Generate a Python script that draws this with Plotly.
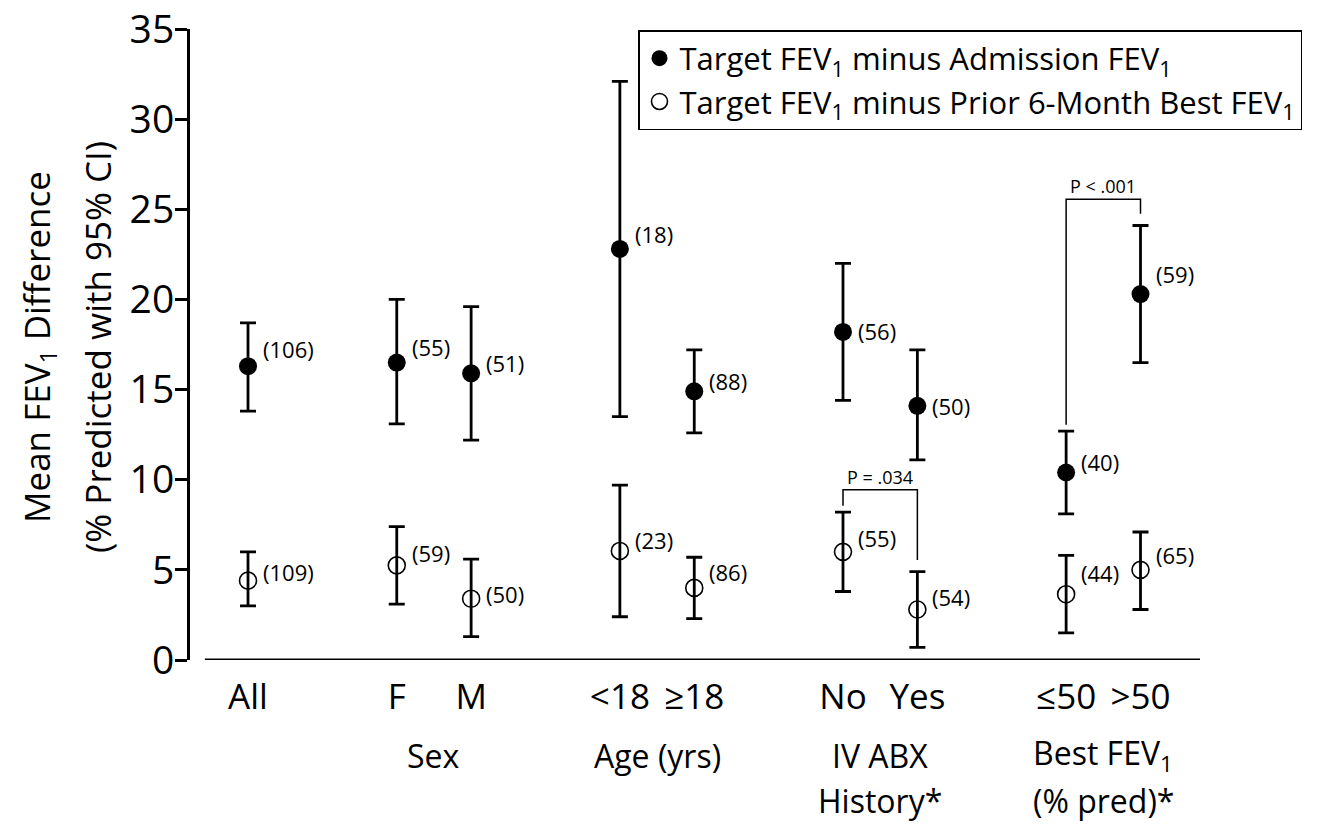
import plotly.graph_objects as go

# ---------------- data ----------------
group_names = ["", "Sex", "Age (yrs)", "IV ABX<br>History*", "Best FEV<sub>1</sub><br>(% pred)*"]
group_members = [["All"], ["F", "M"], ["<18", "≥18"], ["No", "Yes"], ["≤50", ">50"]]
categories = ["All", "F", "M", "<18", "≥18", "No", "Yes", "≤50", ">50"]

# Target FEV1 minus Admission FEV1 (filled)
adm_mean = [16.3, 16.5, 15.9, 22.8, 14.9, 18.2, 14.1, 10.4, 20.3]
adm_lo = [13.8, 13.1, 12.2, 13.5, 12.6, 14.4, 11.1, 8.1, 16.5]
adm_hi = [18.7, 20.0, 19.6, 32.1, 17.2, 22.0, 17.2, 12.7, 24.1]
adm_n = [106, 55, 51, 18, 88, 56, 50, 40, 59]

# Target FEV1 minus Prior 6-Month Best FEV1 (open)
best_mean = [4.4, 5.25, 3.4, 6.05, 4.0, 6.0, 2.8, 3.65, 5.0]
best_lo = [3.0, 3.1, 1.3, 2.4, 2.3, 3.8, 0.7, 1.5, 2.8]
best_hi = [6.0, 7.4, 5.6, 9.7, 5.7, 8.2, 4.9, 5.8, 7.1]
best_n = [109, 59, 50, 23, 86, 55, 54, 44, 65]

# significance brackets: (left category, right category, series, p text, bracket top)
brackets = [("No", "Yes", "best", "P = .034", 9.45), ("≤50", ">50", "adm", "P < .001", 25.55)]

y_ticks = [0, 5, 10, 15, 20, 25, 30, 35]

# ---------------- styling ----------------
adm_label_up = [17, 16, 10, 15, 10, 1, 0, 11, 20]
best_label_up = [9, 12, 5, 11, 16, 14, 13, 21, 15]

FONT = "Open Sans"
W, H = 1324, 825
ML, MR, MT, MB = 190, 124, 29, 165


def px_x(px):  # screen pixel -> paper x
    return (px - ML) / (W - ML - MR)


def px_y(py):  # screen pixel -> paper y
    return (H - MB - py) / (H - MT - MB)


# category x positions: one slot per member, one empty slot between groups
xpos = {}
p = 0
for members in group_members:
    for m in members:
        xpos[m] = p
        p += 1
    p += 1
xs = [xpos[c] for c in categories]

fig = go.Figure()

fig.add_trace(go.Scatter(
    x=xs, y=adm_mean, mode="markers",
    name="Target FEV<sub>1</sub> minus Admission FEV<sub>1</sub>",
    marker=dict(symbol="circle", size=18, color="black"),
    error_y=dict(type="data", symmetric=False,
                 array=[h - m for h, m in zip(adm_hi, adm_mean)],
                 arrayminus=[m - l for m, l in zip(adm_mean, adm_lo)],
                 color="black", thickness=2.8, width=8),
))
fig.add_trace(go.Scatter(
    x=xs, y=best_mean, mode="markers",
    name="Target FEV<sub>1</sub> minus Prior 6-Month Best FEV<sub>1</sub>",
    marker=dict(symbol="circle-open", size=17, color="black", line=dict(width=1.6, color="black")),
    error_y=dict(type="data", symmetric=False,
                 array=[h - m for h, m in zip(best_hi, best_mean)],
                 arrayminus=[m - l for m, l in zip(best_mean, best_lo)],
                 color="black", thickness=2.8, width=8),
))

annotations = []
for x, m, n, up in zip(xs, adm_mean, adm_n, adm_label_up):
    annotations.append(dict(x=x, y=m, text=f"({n})", showarrow=False, xanchor="left",
                            yanchor="middle", xshift=13, yshift=up,
                            font=dict(family=FONT, size=22, color="black")))
for x, m, n, up in zip(xs, best_mean, best_n, best_label_up):
    annotations.append(dict(x=x, y=m, text=f"({n})", showarrow=False, xanchor="left",
                            yanchor="middle", xshift=13, yshift=up,
                            font=dict(family=FONT, size=22, color="black")))

# group labels (each line placed separately for the original line spacing)
line_py = [755, 800]
for gname, members in zip(group_names, group_members):
    if not gname:
        continue
    cx = sum(xpos[m] for m in members) / len(members)
    for k, line in enumerate(gname.split("<br>")):
        annotations.append(dict(x=cx, xref="x", y=px_y(line_py[k]), yref="paper", text=line,
                                showarrow=False, xanchor="center", yanchor="middle",
                                font=dict(family=FONT, size=32, color="black")))

# y-axis title, two lines
for txt, cx in [("Mean FEV<sub>1</sub> Difference", 38), ("(% Predicted with 95% CI)", 97)]:
    annotations.append(dict(x=px_x(cx), xref="paper", y=px_y(347), yref="paper",
                            text=txt, textangle=-90, showarrow=False,
                            xanchor="center", yanchor="middle",
                            font=dict(family=FONT, size=35, color="black")))

shapes = []
# brackets
for left, right, series, ptxt, top in brackets:
    hi = best_hi if series == "best" else adm_hi
    xl, xr = xpos[left], xpos[right]
    yl = hi[categories.index(left)] + 0.35
    yr = hi[categories.index(right)] + 0.65
    shapes.append(dict(type="path", xref="x", yref="y",
                       path=f"M {xl},{yl} L {xl},{top} L {xr},{top} L {xr},{yr}",
                       line=dict(color="black", width=1.5)))
    annotations.append(dict(x=(xl + xr) / 2, y=top, text=ptxt, showarrow=False,
                            xanchor="center", yanchor="bottom", yshift=-1,
                            font=dict(family=FONT, size=18, color="black")))

# detached x-axis baseline
shapes.append(dict(type="line", xref="x", yref="y", x0=-0.58, x1=12.8, y0=0, y1=0,
                   line=dict(color="black", width=3)))

fig.update_layout(
    width=W, height=H,
    margin=dict(l=ML, r=MR, t=MT, b=MB, autoexpand=False),
    paper_bgcolor="white", plot_bgcolor="white",
    font=dict(family=FONT, color="black"),
    showlegend=True,
    legend=dict(x=px_x(638), y=px_y(30), xanchor="left", yanchor="top",
                bordercolor="black", borderwidth=1.5, bgcolor="white",
                font=dict(family=FONT, size=31, color="black"),
                tracegroupgap=0),
    annotations=annotations,
    shapes=shapes,
)
fig.update_xaxes(range=[-0.78, 12.8], tickvals=xs, ticktext=categories,
                 showgrid=False, zeroline=False, showline=False, ticks="",
                 automargin=False, ticklabelstandoff=13,
                 tickfont=dict(family=FONT, size=35, color="black"))
fig.update_yaxes(range=[0, 35], tickvals=y_ticks, showgrid=False, zeroline=False,
                 showline=True, linecolor="black", linewidth=3,
                 ticks="outside", ticklen=12, tickwidth=3, tickcolor="black",
                 automargin=False, ticklabelstandoff=-7, ticklabeloverflow="allow",
                 tickfont=dict(family=FONT, size=39, color="black"))

fig.write_html("out.html", config={"displayModeBar": False},
               post_script="document.body.style.margin='0';document.body.style.overflow='hidden';")
